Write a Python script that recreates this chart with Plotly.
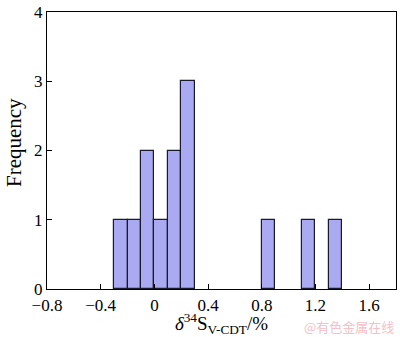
import plotly.graph_objects as go

# Histogram bins (left edges) and counts
bin_starts = [-0.3, -0.2, -0.1, 0.0, 0.1, 0.2, 0.8, 1.1, 1.3]
counts = [1, 1, 2, 1, 2, 3, 1, 1, 1]
bin_width = 0.1

x_ticks = [-0.8, -0.4, 0, 0.4, 0.8, 1.2, 1.6]
y_ticks = [0, 1, 2, 3, 4]

fig = go.Figure()
fig.add_trace(go.Bar(
    x=bin_starts, y=counts, width=[bin_width] * len(counts), offset=0,
    marker=dict(color="#aaaaf2", line=dict(color="#1a1a2e", width=1.2)),
))

font_family = "Liberation Serif"
fig.update_layout(
    width=400, height=337,
    margin=dict(l=47, r=3, t=6, b=48),
    paper_bgcolor="white", plot_bgcolor="white",
    showlegend=False, bargap=0,
    font=dict(family=font_family, size=16, color="black"),
)
fig.update_xaxes(
    range=[-0.8, 1.8], tickvals=x_ticks,
    ticktext=["\u22120.8", "\u22120.4", "0", "0.4", "0.8", "1.2", "1.6"],
    ticks="inside", ticklen=5, tickcolor="black",
    showline=True, linecolor="black", linewidth=1.2, mirror=True,
    showgrid=False, zeroline=False, ticklabeloverflow="allow",
    tickfont=dict(size=17),
    title=dict(text="<i>δ</i><sup>34</sup>S<sub>V-CDT</sub>/%", font=dict(size=19), standoff=4),
)
fig.update_yaxes(
    range=[0, 4], tickvals=y_ticks,
    ticks="inside", ticklen=5, tickcolor="black",
    showline=True, linecolor="black", linewidth=1.2, mirror=True,
    showgrid=False, zeroline=False, ticklabeloverflow="allow",
    tickfont=dict(size=17),
)
fig.add_annotation(
    text="Frequency", xref="paper", yref="paper", x=-0.095, y=0.53,
    xanchor="center", yanchor="middle", textangle=-90, showarrow=False,
    font=dict(family=font_family, size=21, color="black"),
)
fig.add_annotation(
    text="@有色金属在线", xref="paper", yref="paper", x=1.0, y=-0.135,
    xanchor="right", yanchor="middle", showarrow=False,
    font=dict(family="Noto Sans CJK SC", size=13, color="#f5c0c8"),
)
fig.write_html("out.html")
